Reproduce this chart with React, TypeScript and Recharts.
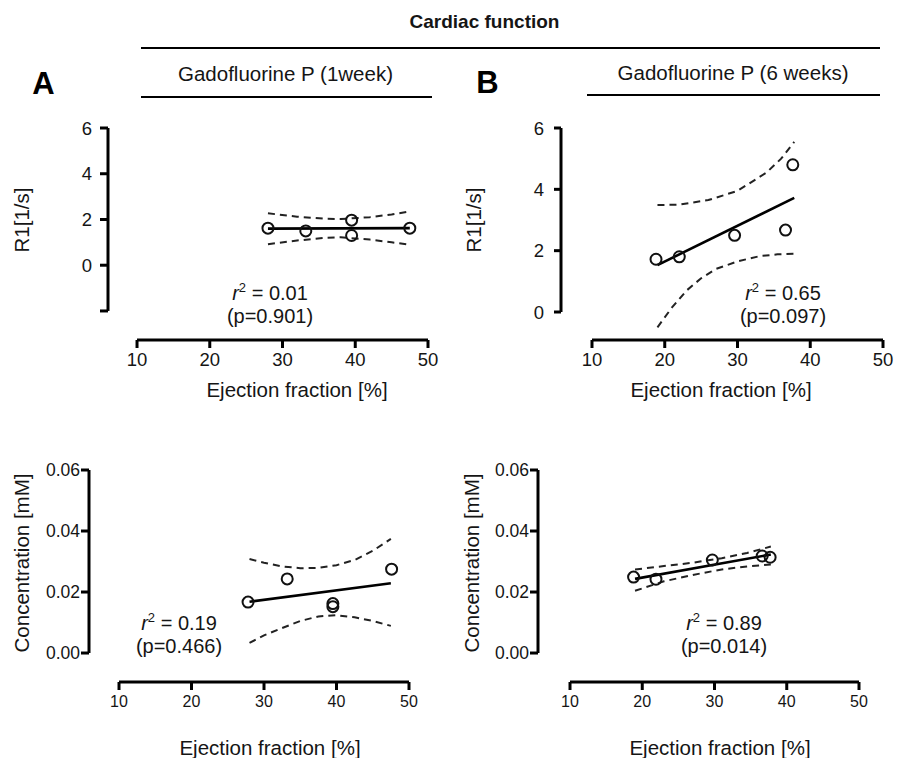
import React from 'react';
import { ScatterChart, Scatter, XAxis, YAxis, ReferenceLine } from 'recharts';

const FONT = '"Liberation Sans", Arial, Helvetica, sans-serif';
const INK = '#151515';

const efTicks = [10, 20, 30, 40, 50];

// A, top: R1 after 1 week
const efA = [28, 33.2, 39.5, 39.5, 47.5];
const r1A = [1.62, 1.5, 1.97, 1.3, 1.62];
const r1AFitX = [28, 47.5];
const r1AFitY = [1.6, 1.62];
const r1ABandX = [28, 32, 36, 38, 42, 45, 47.5];
const r1AUpper = [2.27, 2.12, 2.03, 2.02, 2.1, 2.22, 2.35];
const r1ALower = [0.92, 1.08, 1.2, 1.22, 1.12, 1.0, 0.9];

// B, top: R1 after 6 weeks
const efB = [18.8, 22, 29.6, 36.6, 37.6];
const r1B = [1.72, 1.8, 2.5, 2.67, 4.8];
const r1BFitX = [19, 37.8];
const r1BFitY = [1.53, 3.72];
const r1BUpperX = [19, 22, 26, 30, 34, 36, 37.8];
const r1BUpper = [3.49, 3.5, 3.65, 3.95, 4.55, 5.0, 5.55];
const r1BLowerX = [19, 21, 23, 25, 27, 30, 33, 35.5, 37.8];
const r1BLower = [-0.5, 0.15, 0.7, 1.1, 1.4, 1.65, 1.82, 1.88, 1.9];

// A, bottom: concentration after 1 week
const efA2 = [27.8, 33.2, 39.5, 39.5, 47.6];
const concA = [0.0167, 0.0243, 0.0162, 0.0152, 0.0275];
const concAFitX = [28, 47.5];
const concAFitY = [0.0168, 0.0229];
const concABandX = [28, 30, 32.5, 35, 37.5, 40, 42.5, 45, 47.5];
const concAUpper = [0.0308, 0.0296, 0.0284, 0.0278, 0.0279, 0.0288, 0.0305, 0.0335, 0.0374];
const concALower = [0.0033, 0.0058, 0.0082, 0.0105, 0.012, 0.0124, 0.0117, 0.0105, 0.0089];

// B, bottom: concentration after 6 weeks
const efB2 = [18.8, 21.9, 29.7, 36.6, 37.7];
const concB = [0.0249, 0.0242, 0.0305, 0.0318, 0.0314];
const concBFitX = [19, 37.8];
const concBFitY = [0.0243, 0.0323];
const concBBandX = [19, 23, 27, 31, 34.5, 37.8];
const concBUpper = [0.0274, 0.0285, 0.0296, 0.0311, 0.0328, 0.0349];
const concBLower = [0.0204, 0.0235, 0.0256, 0.0274, 0.0284, 0.029];

const pts = (xs: number[], ys: number[]) => xs.map((x, i) => ({ x, y: ys[i] }));

const YW = 60;
const XH = 40;
const MT = 12;
const MR = 20;

type Box = { left: number; top: number; right: number; bottom: number };

interface PanelProps {
  box: Box;
  xDomain: [number, number];
  yDomain: [number, number];
  yTicks: number[];
  yFmt: (v: number) => string;
  xFont: number;
  yFont: number;
  yTickSize: number;
  yTickMargin: number;
  xTickMargin: number;
  points: { x: number; y: number }[];
  fit: { x: number; y: number }[];
  upper: { x: number; y: number }[];
  lower: { x: number; y: number }[];
}

const noDot = () => <g />;
const openCircle = (p: any) => (
  <circle cx={p.cx} cy={p.cy} r={5.5} fill="none" stroke="#111" strokeWidth={2} />
);

function Panel(props: PanelProps) {
  const { box, xDomain, yDomain, yTicks } = props;
  const w = YW + (box.right - box.left) + MR;
  const h = MT + (box.bottom - box.top) + XH;
  const dashed = { stroke: '#222', strokeWidth: 2, strokeDasharray: '7 5' };

  const xTick = (p: any) => (
    <text x={p.x} y={p.y} dy="0.71em" textAnchor="middle" fontFamily={FONT} fontSize={props.xFont} fill={INK}>
      {p.payload.value}
    </text>
  );
  const yTick = (p: any) => (
    <text x={p.x} y={p.y} dy="0.355em" textAnchor="end" fontFamily={FONT} fontSize={props.yFont} fill={INK}>
      {props.yFmt(p.payload.value)}
    </text>
  );

  return (
    <div style={{ position: 'absolute', left: box.left - YW, top: box.top - MT }}>
      <ScatterChart width={w} height={h} margin={{ top: MT, right: MR, bottom: 0, left: 0 }}>
        <XAxis
          type="number"
          dataKey="x"
          domain={xDomain}
          allowDataOverflow
          ticks={efTicks}
          interval={0}
          height={XH}
          axisLine={false}
          tickLine={{ stroke: '#000', strokeWidth: 3 }}
          tickSize={8}
          tickMargin={props.xTickMargin}
          tick={xTick}
        />
        <YAxis
          type="number"
          dataKey="y"
          domain={yDomain}
          allowDataOverflow
          ticks={yTicks}
          interval={0}
          width={YW}
          axisLine={false}
          tickLine={{ stroke: '#000', strokeWidth: 3 }}
          tickSize={props.yTickSize}
          tickMargin={props.yTickMargin}
          tick={yTick}
        />
        <ReferenceLine
          segment={[{ x: efTicks[0], y: yDomain[0] }, { x: efTicks[efTicks.length - 1], y: yDomain[0] }]}
          stroke="#000"
          strokeWidth={3}
          ifOverflow="visible"
        />
        <ReferenceLine
          segment={[{ x: xDomain[0], y: yTicks[0] }, { x: xDomain[0], y: yTicks[yTicks.length - 1] }]}
          stroke="#000"
          strokeWidth={3}
          ifOverflow="visible"
        />
        <Scatter data={props.upper} line={dashed} shape={noDot} isAnimationActive={false} />
        <Scatter data={props.lower} line={dashed} shape={noDot} isAnimationActive={false} />
        <Scatter data={props.fit} line={{ stroke: '#000', strokeWidth: 2.6 }} shape={noDot} isAnimationActive={false} />
        <Scatter data={props.points} shape={openCircle} isAnimationActive={false} />
      </ScatterChart>
    </div>
  );
}

const r1Fmt = (v: number) => (v < 0 ? '' : String(v));
const concFmt = (v: number) => v.toFixed(2);

function Stat({ x, y, r2, p }: { x: number; y: number; r2: string; p: string }) {
  return (
    <g fontFamily={FONT} fontSize={20} fill={INK} textAnchor="middle">
      <text x={x} y={y}>
        <tspan fontStyle="italic">r</tspan>
        <tspan fontSize={13} dy={-8}>2</tspan>
        <tspan dy={8}>{` = ${r2}`}</tspan>
      </text>
      <text x={x} y={y + 23}>{`(p=${p})`}</text>
    </g>
  );
}

function YLabel({ x, y, text }: { x: number; y: number; text: string }) {
  return (
    <text
      transform={`translate(${x},${y}) rotate(-90)`}
      textAnchor="middle"
      fontFamily={FONT}
      fontSize={20.5}
      fill={INK}
    >
      {text}
    </text>
  );
}

function XLabel({ x, y }: { x: number; y: number }) {
  return (
    <text x={x} y={y} textAnchor="middle" fontFamily={FONT} fontSize={20.5} fill={INK}>
      Ejection fraction [%]
    </text>
  );
}

export default function App() {
  return (
    <div style={{ position: 'absolute', left: 0, top: 0, width: 899, height: 758, background: '#fff' }}>
      <Panel
        box={{ left: 108, top: 128, right: 428, bottom: 340 }}
        xDomain={[6.01, 50]}
        yDomain={[-3.27, 6]}
        yTicks={[-2, 0, 2, 4, 6]}
        yFmt={r1Fmt}
        xFont={18.5}
        yFont={18.5}
        yTickSize={8}
        yTickMargin={8}
        xTickMargin={5}
        points={pts(efA, r1A)}
        fit={pts(r1AFitX, r1AFitY)}
        upper={pts(r1ABandX, r1AUpper)}
        lower={pts(r1ABandX, r1ALower)}
      />
      <Panel
        box={{ left: 561, top: 128, right: 883, bottom: 340 }}
        xDomain={[5.74, 50]}
        yDomain={[-0.913, 6]}
        yTicks={[0, 2, 4, 6]}
        yFmt={r1Fmt}
        xFont={18.5}
        yFont={18.5}
        yTickSize={7}
        yTickMargin={10}
        xTickMargin={5}
        points={pts(efB, r1B)}
        fit={pts(r1BFitX, r1BFitY)}
        upper={pts(r1BUpperX, r1BUpper)}
        lower={pts(r1BLowerX, r1BLower)}
      />
      <Panel
        box={{ left: 89, top: 470, right: 409, bottom: 682 }}
        xDomain={[5.86, 50]}
        yDomain={[-0.0095, 0.06]}
        yTicks={[0, 0.02, 0.04, 0.06]}
        yFmt={concFmt}
        xFont={16}
        yFont={17.5}
        yTickSize={8}
        yTickMargin={1}
        xTickMargin={6}
        points={pts(efA2, concA)}
        fit={pts(concAFitX, concAFitY)}
        upper={pts(concABandX, concAUpper)}
        lower={pts(concABandX, concALower)}
      />
      <Panel
        box={{ left: 538, top: 470, right: 859, bottom: 682 }}
        xDomain={[5.57, 50]}
        yDomain={[-0.0095, 0.06]}
        yTicks={[0, 0.02, 0.04, 0.06]}
        yFmt={concFmt}
        xFont={16}
        yFont={17.5}
        yTickSize={8}
        yTickMargin={1}
        xTickMargin={6}
        points={pts(efB2, concB)}
        fit={pts(concBFitX, concBFitY)}
        upper={pts(concBBandX, concBUpper)}
        lower={pts(concBBandX, concBLower)}
      />

      <svg width={899} height={758} style={{ position: 'absolute', left: 0, top: 0, pointerEvents: 'none' }}>
        <text x={484.5} y={28} textAnchor="middle" fontFamily={FONT} fontSize={19} fontWeight="bold" fill={INK}>
          Cardiac function
        </text>
        <line x1={141} y1={48} x2={880} y2={48} stroke="#000" strokeWidth={2} />

        <text x={43.5} y={94} textAnchor="middle" fontFamily={FONT} fontSize={31} fontWeight="bold" fill="#000">A</text>
        <text x={487.5} y={93} textAnchor="middle" fontFamily={FONT} fontSize={31} fontWeight="bold" fill="#000">B</text>

        <text x={285.5} y={81} textAnchor="middle" fontFamily={FONT} fontSize={20.5} fill={INK}>
          Gadofluorine P (1week)
        </text>
        <line x1={141} y1={97} x2={432} y2={97} stroke="#000" strokeWidth={2} />
        <text x={733} y={80} textAnchor="middle" fontFamily={FONT} fontSize={20.5} fill={INK}>
          Gadofluorine P (6 weeks)
        </text>
        <line x1={587} y1={95} x2={880} y2={95} stroke="#000" strokeWidth={2} />

        <YLabel x={29} y={220} text="R1[1/s]" />
        <YLabel x={481} y={220} text="R1[1/s]" />
        <YLabel x={29} y={563} text="Concentration [mM]" />
        <YLabel x={479} y={563} text="Concentration [mM]" />

        <XLabel x={297} y={397} />
        <XLabel x={721} y={397} />
        <XLabel x={270} y={755} />
        <XLabel x={720} y={755} />

        <Stat x={270} y={300} r2="0.01" p="0.901" />
        <Stat x={783} y={300} r2="0.65" p="0.097" />
        <Stat x={179} y={630} r2="0.19" p="0.466" />
        <Stat x={724} y={630} r2="0.89" p="0.014" />
      </svg>
    </div>
  );
}
